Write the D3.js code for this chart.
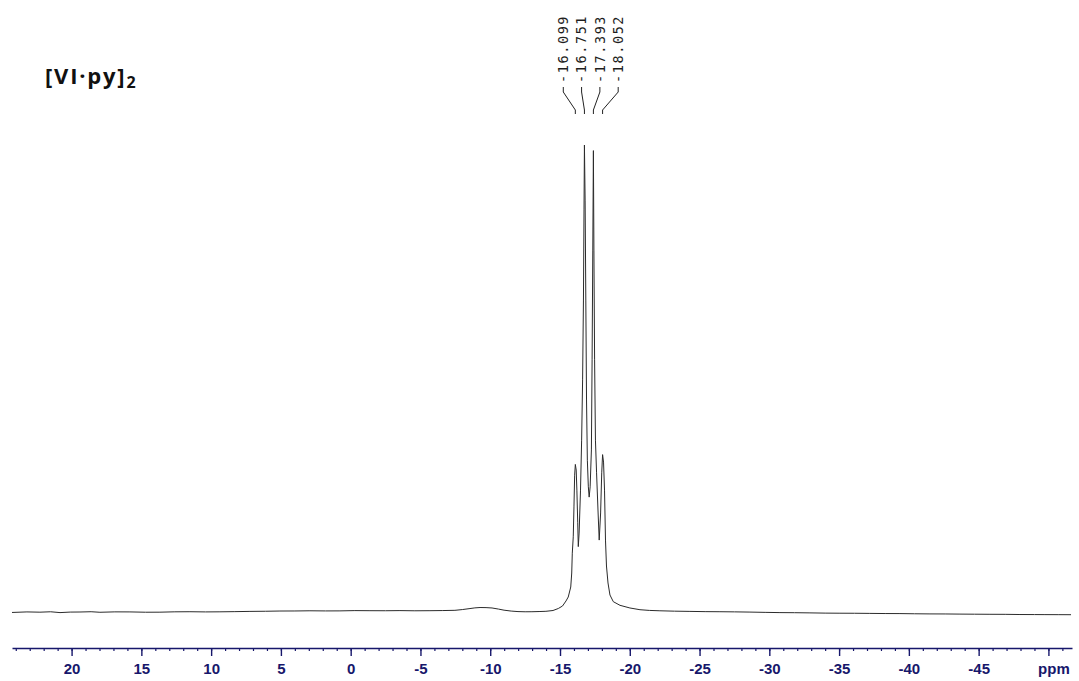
<!DOCTYPE html>
<html>
<head>
<meta charset="utf-8">
<script src="https://cdn.jsdelivr.net/npm/d3@7"></script>
<style>
  html, body { margin: 0; padding: 0; background: #fff; }
  svg { display: block; }
</style>
</head>
<body>
<svg id="chart" width="1079" height="681"></svg>
<script>
// 1H-style spectrum trace: chemical shift (ppm) and relative intensity
const shiftPpm = [
  24.27, 23.2, 22.27, 21.5, 20.83, 20.1, 19.4, 18.6, 17.97, 16.9, 15.82, 14.7, 13.67, 12.6, 11.52,
  10.4, 9.37, 8.3, 7.22, 6.1, 5.07, 4.0, 2.92, 1.8, 0.77, -0.3, -1.38, -2.5, -3.53, -4.6, -5.68,
  -6.6, -7.47, -8.0, -8.48, -8.9, -9.27, -9.7, -10.13, -10.6, -10.99, -11.5, -11.99, -12.5, -12.99,
  -13.5, -13.99, -14.5, -14.88, -15.18, -15.43, -15.59, -15.77, -15.84, -15.88, -15.95, -16.0,
  -16.05, -16.099, -16.16, -16.21, -16.27, -16.31, -16.37, -16.47, -16.55, -16.62, -16.68, -16.72,
  -16.751, -16.80, -16.85, -16.90, -16.96, -17.03, -17.09, -17.16, -17.25, -17.30, -17.35, -17.393,
  -17.43, -17.48, -17.54, -17.62, -17.73, -17.81, -17.91, -17.99, -18.052, -18.12, -18.19, -18.26,
  -18.33, -18.44, -18.58, -18.82, -19.3, -20.01, -20.73, -21.4, -22.16, -23.2, -24.31, -25.4, -26.46,
  -27.5, -28.61, -29.7, -30.76, -31.8, -32.91, -34.0, -35.06, -36.1, -37.2, -38.3, -39.36, -40.4,
  -41.51, -42.6, -43.66, -44.7, -45.81, -46.9, -47.96, -49.0, -49.75, -50.7, -51.62
];
const intensity = [
  -0.10, 0.02, -0.04, 0.05, -0.13, -0.02, 0.00, 0.06, -0.06, 0.03, 0.02, -0.05, -0.04, 0.04, 0.06,
  0.02, 0.04, 0.08, 0.13, 0.16, 0.21, 0.22, 0.26, 0.23, 0.24, 0.30, 0.28, 0.27, 0.30, 0.26, 0.28,
  0.31, 0.36, 0.52, 0.71, 0.88, 0.96, 0.94, 0.86, 0.62, 0.39, 0.20, 0.09, 0.05, 0.06,
  0.10, 0.15, 0.32, 0.75, 1.28, 2.36, 3.21, 5.35, 8.35, 12.6, 16.1, 22.5,
  29.3, 31.6, 30.4, 26.1, 19.1, 14.0, 16.9, 26.1, 36.8, 49.7, 66.8, 86.1,
  100.0, 88.2, 66.8, 45.4, 32.5, 26.8, 24.6, 26.8, 34.7, 54.0, 77.5, 98.8,
  77.5, 54.0, 36.8, 29.8, 21.2, 15.4, 21.2, 29.8, 33.7, 32.1, 26.1, 15.4,
  9.85, 6.21, 3.64, 2.21, 1.43, 0.86, 0.49, 0.34, 0.26, 0.18, 0.13, 0.08, 0.06,
  0.03, -0.02, -0.08, -0.13, -0.15, -0.19, -0.24, -0.26, -0.27, -0.30, -0.33, -0.34, -0.38,
  -0.41, -0.42, -0.45, -0.47, -0.49, -0.50, -0.54, -0.55, -0.56, -0.57, -0.58
];

// Peak picking labels
const peakPpm = [-16.099, -16.751, -17.393, -18.052];
const peakLabels = ["-16.099", "-16.751", "-17.393", "-18.052"];

// Axis ticks
const majorTicks = [20, 15, 10, 5, 0, -5, -10, -15, -20, -25, -30, -35, -40, -45, -50];
const majorTickLabels = ["20", "15", "10", "5", "0", "-5", "-10", "-15", "-20", "-25", "-30", "-35", "-40", "-45", "ppm"];
const minorTicks = d3.range(24, -52, -1);

const svg = d3.select("#chart");
const axisColor = "#17176b";

const x = d3.scaleLinear().domain([24.27, -51.69]).range([12, 1072]);
const y = d3.scaleLinear().domain([0, 100]).range([612, 145]);

// Spectrum trace
const points = shiftPpm.map((p, i) => [p, intensity[i]]);
svg.append("path")
  .datum(points)
  .attr("fill", "none")
  .attr("stroke", "#2b2b2b")
  .attr("stroke-width", 1)
  .attr("stroke-linejoin", "round")
  .attr("d", d3.line().x(d => x(d[0])).y(d => y(d[1])));

// Bottom ppm axis: minor ticks, then labelled major ticks
const axisY = 648;
const minorAxis = d3.axisBottom(x).tickValues(minorTicks).tickSize(3).tickSizeOuter(0).tickFormat("");
const gMinor = svg.append("g").attr("transform", `translate(0,${axisY})`).call(minorAxis);
gMinor.select(".domain").attr("stroke", axisColor).attr("stroke-width", 1.6);
gMinor.selectAll(".tick line").attr("stroke", axisColor).attr("stroke-width", 1.2);

const majorAxis = d3.axisBottom(x).tickValues(majorTicks).tickSize(8).tickSizeOuter(0)
  .tickFormat((d, i) => majorTickLabels[i]);
const gMajor = svg.append("g").attr("transform", `translate(0,${axisY})`).call(majorAxis);
gMajor.select(".domain").remove();
gMajor.selectAll(".tick line").attr("stroke", axisColor).attr("stroke-width", 1.4);
gMajor.selectAll(".tick text")
  .attr("fill", axisColor)
  .attr("y", 0)
  .attr("dy", 0)
  .attr("transform", "translate(0,26)")
  .style("font-family", "'Liberation Sans', Arial, sans-serif")
  .style("font-weight", "bold")
  .style("font-size", "15px");
gMajor.selectAll(".tick text").filter((d, i) => majorTickLabels[i] === "ppm")
  .attr("transform", "translate(5,26)");

// Peak labels with leader lines
const labelGap = 18.3;
const labelCenter = d3.mean(peakPpm, p => x(p)) + 1.8;
const labelX = peakPpm.map((p, i) => labelCenter + (i - (peakPpm.length - 1) / 2) * labelGap);

const gPeaks = svg.append("g");
peakPpm.forEach((p, i) => {
  const lx = labelX[i];
  const px = x(p);
  gPeaks.append("text")
    .attr("transform", `translate(${lx + 4.8},83) rotate(-90)`)
    .attr("text-anchor", "start")
    .style("font-family", "'DejaVu Sans Mono', monospace")
    .style("font-size", "13.5px")
    .style("letter-spacing", "1.6px")
    .attr("fill", "#1e1e1e")
    .text(peakLabels[i]);
  gPeaks.append("path")
    .attr("fill", "none")
    .attr("stroke", "#222")
    .attr("stroke-width", 1)
    .attr("d", `M${lx},87 L${lx},92 L${px},110 L${px},114`);
});

// Compound label
const title = svg.append("text")
  .attr("x", 45)
  .attr("y", 84)
  .style("font-family", "'Open Sans', sans-serif")
  .style("font-weight", "bold")
  .style("font-size", "22px")
  .style("letter-spacing", "1.8px")
  .attr("fill", "#111");
title.append("tspan").text("[VI·py]");
title.append("tspan").attr("dy", 4).style("font-size", "16px").style("letter-spacing", "0px").text("2");
</script>
</body>
</html>
